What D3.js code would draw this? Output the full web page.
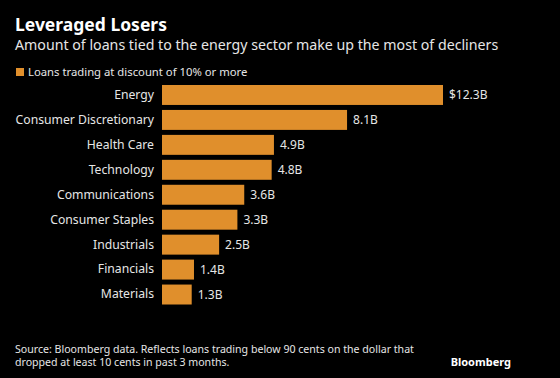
<!DOCTYPE html>
<html><head><meta charset="utf-8">
<script src="https://cdn.jsdelivr.net/npm/d3@7"></script>
<style>
html,body{margin:0;padding:0;background:#000;}
svg{display:block;}
text{font-family:"Noto Sans","DejaVu Sans",sans-serif;}
</style></head>
<body><div id="chart"></div>
<script>
const categories = ["Energy","Consumer Discretionary","Health Care","Technology","Communications","Consumer Staples","Industrials","Financials","Materials"];
const values = [12.3, 8.1, 4.9, 4.8, 3.6, 3.3, 2.5, 1.4, 1.3];
const valueLabels = ["$12.3B","8.1B","4.9B","4.8B","3.6B","3.3B","2.5B","1.4B","1.3B"];
const title = "Leveraged Losers";
const subtitle = "Amount of loans tied to the energy sector make up the most of decliners";
const legendLabel = "Loans trading at discount of 10% or more";
const source = ["Source: Bloomberg data. Reflects loans trading below 90 cents on the dollar that","dropped at least 10 cents in past 3 months."];

const W = 560, H = 378;
const barColor = "#e08f2c";
const textColor = "#e6e6e6";
const svg = d3.select("#chart").append("svg").attr("width", W).attr("height", H);
svg.append("rect").attr("width", W).attr("height", H).attr("fill", "#000");

svg.append("text").attr("x", 15).attr("y", 31).attr("fill", "#fff")
  .attr("font-size", 17.5).attr("font-weight", "bold").text(title);
svg.append("text").attr("x", 15).attr("y", 50).attr("fill", textColor)
  .attr("font-size", 14.2).text(subtitle);

svg.append("rect").attr("x", 16).attr("y", 68).attr("width", 8).attr("height", 8).attr("fill", barColor);
svg.append("text").attr("x", 28).attr("y", 76).attr("fill", textColor)
  .attr("font-size", 11.3).text(legendLabel);

const x = d3.scaleLinear().domain([0, 12.3]).range([162, 443]);
const y = d3.scaleBand().domain(categories).range([82.5, 307]).paddingInner(0.2).paddingOuter(0.1);

const g = svg.append("g");
g.selectAll("rect.bar").data(categories).join("rect").attr("class","bar")
  .attr("x", x(0)).attr("y", d => y(d))
  .attr("width", (d,i) => x(values[i]) - x(0)).attr("height", y.bandwidth())
  .attr("fill", barColor);

const yAxis = d3.axisLeft(y).tickSize(0).tickPadding(8);
const ya = svg.append("g").attr("transform", `translate(${x(0)},0)`).call(yAxis);
ya.select(".domain").remove();
ya.selectAll("text").attr("fill", textColor).attr("font-size", 12.2)
  .attr("font-family", '"Noto Sans","DejaVu Sans",sans-serif');

g.selectAll("text.val").data(categories).join("text").attr("class","val")
  .attr("x", (d,i) => x(values[i]) + 6).attr("y", d => y(d) + y.bandwidth()/2)
  .attr("dy", "0.35em").attr("fill", textColor).attr("font-size", 12)
  .text((d,i) => valueLabels[i]);

svg.selectAll("text.src").data(source).join("text").attr("class","src")
  .attr("x", 15).attr("y", (d,i) => 353 + i*13).attr("fill", textColor)
  .attr("font-size", 10.6).text(d => d);

svg.append("text").attr("x", 511).attr("y", 366).attr("text-anchor","end")
  .attr("fill", "#fff").attr("font-size", 11).attr("font-weight","bold").text("Bloomberg");
</script></body></html>
